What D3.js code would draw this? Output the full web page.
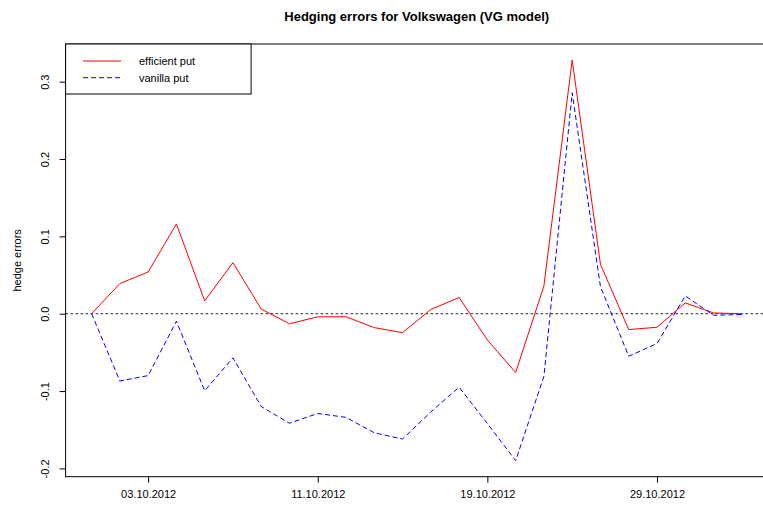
<!DOCTYPE html>
<html lang="en">
<head>
    <meta charset="UTF-8">
    <title>Hedging errors for Volkswagen (VG model)</title>
    <script src="https://d3js.org/d3.v7.min.js"></script>
    <style>
        body {
            margin: 0;
            background: white;
            font-family: "Liberation Sans", Arial, sans-serif;
        }
        svg text {
            fill: black;
        }
    </style>
</head>
<body>
    <svg id="chart" width="763" height="509"></svg>
    <script>
        // trading days, index 1..24
        const days = d3.range(1, 25);
        const efficientPut = [0, 0.039, 0.054, 0.116, 0.0166, 0.066, 0.006, -0.013, -0.004, -0.004,
                              -0.018, -0.0245, 0.0055, 0.021, -0.034, -0.076, 0.036, 0.328, 0.064, -0.0205,
                              -0.0175, 0.014, 0.001, 0.0];
        const vanillaPut = [0, -0.087, -0.080, -0.0097, -0.0996, -0.057, -0.120, -0.1416, -0.129, -0.134,
                            -0.154, -0.162, -0.127, -0.095, -0.142, -0.190, -0.081, 0.2856, 0.035, -0.055,
                            -0.0385, 0.023, -0.002, -0.001];
        const xTickIdx = [3, 9, 15, 21];
        const xTickLabels = ["03.10.2012", "11.10.2012", "19.10.2012", "29.10.2012"];
        const yTicks = [-0.2, -0.1, 0.0, 0.1, 0.2, 0.3];

        const svg = d3.select("#chart");

        // plot region (right side runs off the picture, like the original)
        const plot = { left: 65.6, right: 767.8, top: 44, bottom: 476.7 };

        // R style 4% padding on both axes
        const xExt = d3.extent(days), xPad = (xExt[1] - xExt[0]) * 0.04;
        const allVals = efficientPut.concat(vanillaPut);
        const yExt = d3.extent(allVals), yPad = (yExt[1] - yExt[0]) * 0.04;

        const x = d3.scaleLinear()
            .domain([xExt[0] - xPad, xExt[1] + xPad])
            .range([plot.left, plot.right]);
        const y = d3.scaleLinear()
            .domain([yExt[0] - yPad, yExt[1] + yPad])
            .range([plot.bottom, plot.top]);

        // title
        svg.append("text")
            .attr("x", (plot.left + plot.right) / 2)
            .attr("y", 21)
            .attr("text-anchor", "middle")
            .attr("font-weight", "bold")
            .attr("font-size", "13px")
            .text("Hedging errors for Volkswagen (VG model)");

        // y label
        svg.append("text")
            .attr("transform", `translate(21, ${(plot.top + plot.bottom) / 2}) rotate(-90)`)
            .attr("text-anchor", "middle")
            .attr("font-size", "11px")
            .text("hedge errors");

        // zero reference line
        svg.append("line")
            .attr("x1", plot.left).attr("x2", plot.right)
            .attr("y1", y(0)).attr("y2", y(0))
            .attr("stroke", "#222")
            .attr("stroke-dasharray", "2.5,2.5");

        const line = d3.line()
            .x((d, i) => x(days[i]))
            .y(d => y(d));

        svg.append("path")
            .datum(efficientPut)
            .attr("d", line)
            .attr("fill", "none")
            .attr("stroke", "#ff0000")
            .attr("stroke-width", 1);

        svg.append("path")
            .datum(vanillaPut)
            .attr("d", line)
            .attr("fill", "none")
            .attr("stroke", "#0000ff")
            .attr("stroke-width", 1)
            .attr("stroke-dasharray", "5,3");

        // axes
        const xAxis = svg.append("g")
            .attr("transform", `translate(0, ${plot.bottom})`)
            .call(d3.axisBottom(x)
                .tickValues(xTickIdx)
                .tickFormat((d, i) => xTickLabels[i])
                .tickSize(6)
                .tickPadding(8));
        xAxis.select(".domain").remove();

        const yAxis = svg.append("g")
            .attr("transform", `translate(${plot.left}, 0)`)
            .call(d3.axisLeft(y)
                .tickValues(yTicks)
                .tickSize(6)
                .tickPadding(0));
        yAxis.select(".domain").remove();
        yAxis.selectAll(".tick text")
            .attr("x", 0)
            .attr("dy", 0)
            .attr("text-anchor", "middle")
            .attr("transform", "translate(-17, 0) rotate(-90)")
            .text(d => d.toFixed(1));

        svg.selectAll(".tick text")
            .attr("font-family", "Liberation Sans, Arial, sans-serif")
            .attr("font-size", "11px")
            .attr("fill", "black");

        // plot box
        svg.append("rect")
            .attr("x", plot.left).attr("y", plot.top)
            .attr("width", plot.right - plot.left).attr("height", plot.bottom - plot.top)
            .attr("fill", "none")
            .attr("stroke", "black");

        // legend
        const legendItems = [
            { label: "efficient put", color: "#ff0000", dash: null },
            { label: "vanilla put", color: "#0000ff", dash: "5,3" }
        ];
        const legend = svg.append("g");
        legend.append("rect")
            .attr("x", plot.left).attr("y", plot.top)
            .attr("width", 185.5).attr("height", 50)
            .attr("fill", "white")
            .attr("stroke", "black");
        legendItems.forEach((d, i) => {
            const ly = 61 + i * 16.7;
            legend.append("line")
                .attr("x1", 83).attr("x2", 121)
                .attr("y1", ly).attr("y2", ly)
                .attr("stroke", d.color)
                .attr("stroke-dasharray", d.dash);
            legend.append("text")
                .attr("x", 139)
                .attr("y", ly + 4)
                .attr("font-size", "11px")
                .text(d.label);
        });
    </script>
</body>
</html>
